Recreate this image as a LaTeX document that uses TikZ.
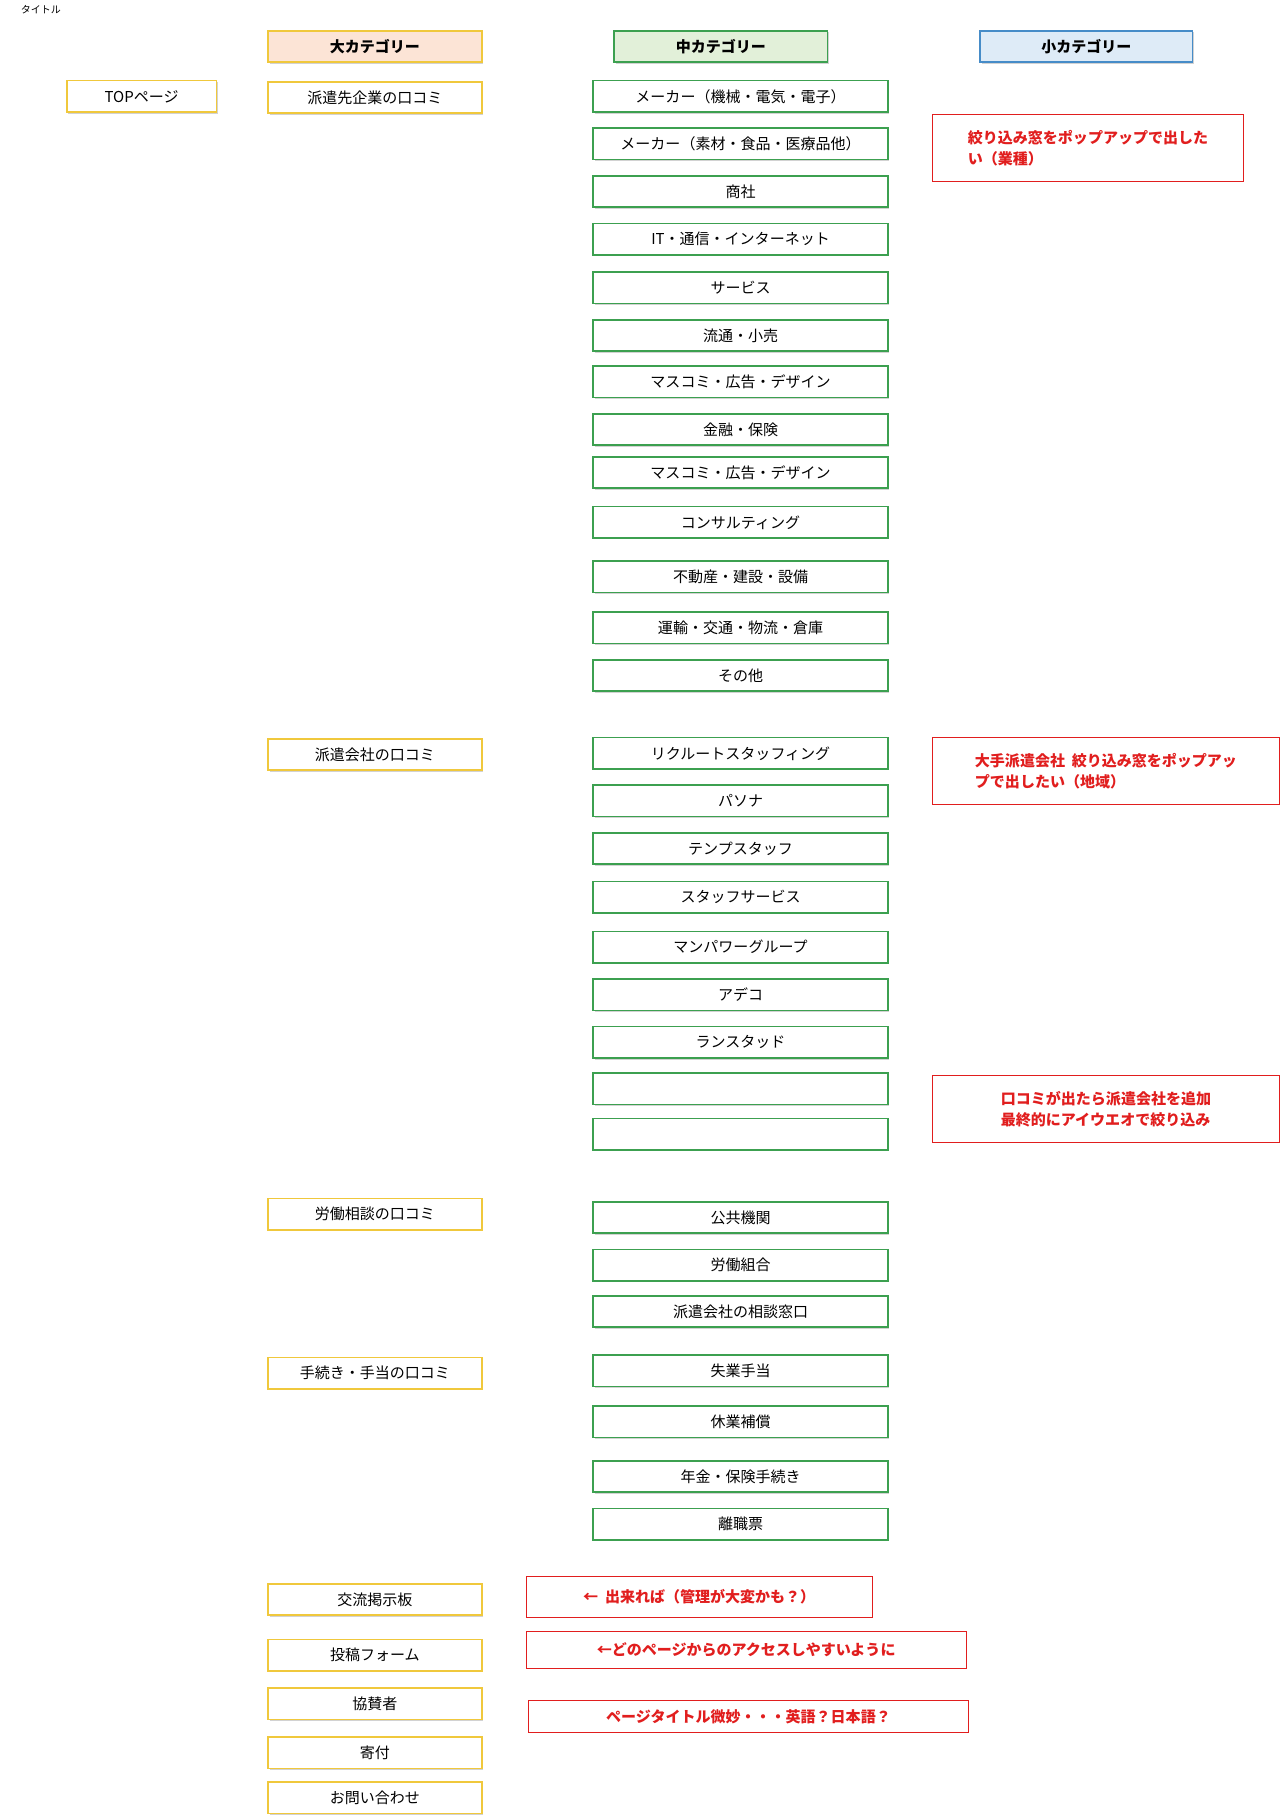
\documentclass[tikz,border=0pt]{standalone}
\usepackage{fontspec}
\setmainfont{Noto Sans CJK JP}
\usetikzlibrary{shadows}
\definecolor{ybord}{RGB}{240,200,60}
\definecolor{gbord}{RGB}{60,160,80}
\definecolor{bbord}{RGB}{70,140,200}
\definecolor{redc}{RGB}{225,30,30}
\begin{document}
\begin{tikzpicture}[x=1.16pt,y=-1.16pt,
  base/.style={draw,line width=1.6pt,minimum height=27*1.16pt,inner sep=0pt,font=\fontsize{15}{18}\selectfont,drop shadow={shadow xshift=1.5pt,shadow yshift=-1.5pt,opacity=0.35}},
  big/.style={base,draw=ybord,fill=white,minimum width=184*1.16pt},
  mid/.style={base,draw=gbord,fill=white,minimum width=254*1.16pt},
  note/.style={draw=redc,line width=0.8pt,text=redc,font=\fontsize{15}{21}\selectfont\bfseries,align=left,anchor=north west,inner sep=7pt}]
\useasboundingbox (0,0) rectangle (1105,1568);
\fill[white] (0,0) rectangle (1105,1568);
\node[anchor=west,font=\fontsize{10}{12}\selectfont] (t) at (15,8) {タイトル};
\node[big,fill={rgb,255:red,252;green,228;blue,214},font=\fontsize{15}{18}\selectfont\bfseries] (h1) at (323,40) {大カテゴリー};
\node[mid,minimum width=184*1.16pt,fill={rgb,255:red,226;green,240;blue,217},font=\fontsize{15}{18}\selectfont\bfseries] (h2) at (621,40) {中カテゴリー};
\node[base,draw=bbord,minimum width=183*1.16pt,fill={rgb,255:red,222;green,235;blue,247},font=\fontsize{15}{18}\selectfont\bfseries] (h3) at (936,40) {小カテゴリー};
\node[big,minimum width=129*1.16pt] (top) at (122,83) {TOPページ};
\foreach \n/\y/\t in {b1/84/派遣先企業の口コミ,b2/650/派遣会社の口コミ,b3/1046/労働相談の口コミ,b4/1183/手続き・手当の口コミ,b5/1378/交流掲示板,b6/1426/投稿フォーム,b7/1468/協賛者,b8/1510/寄付,b9/1549/お問い合わせ}
  \node[big] (\n) at (323,\y) {\t};
\foreach \n/\y/\t in {m1/83/メーカー（機械・電気・電子）,m2/124/メーカー（素材・食品・医療品他）,m3/165/商社,m4/206/IT・通信・インターネット,m5/248/サービス,m6/289/流通・小売,m7/329/マスコミ・広告・デザイン,m8/370/金融・保険,m9/407/マスコミ・広告・デザイン,m10/450/コンサルティング,m11/497/不動産・建設・設備,m12/541/運輸・交通・物流・倉庫,m13/582/その他,n1/649/リクルートスタッフィング,n2/690/パソナ,n3/731/テンプスタッフ,n4/773/スタッフサービス,n5/816/マンパワーグループ,n6/857/アデコ,n7/898/ランスタッド,n8/938/{},n9/977/{},p1/1049/公共機関,p2/1090/労働組合,p3/1130/派遣会社の相談窓口,q1/1181/失業手当,q2/1225/休業補償,q3/1272/年金・保険手続き,q4/1313/離職票}
  \node[mid] (\n) at (638,\y) {\t};
\node[note,minimum width=268*1.16pt,minimum height=58*1.16pt] (r1) at (803,98) {絞り込み窓をポップアップで出した\\い（業種）};
\node[note,minimum width=299*1.16pt,minimum height=58*1.16pt] (r2) at (803,635) {大手派遣会社\ \ 絞り込み窓をポップアッ\\プで出したい（地域）};
\node[note,minimum width=299*1.16pt,minimum height=58*1.16pt] (r3) at (803,926) {口コミが出たら派遣会社を追加\\最終的にアイウエオで絞り込み};
\node[note,minimum width=298*1.16pt,minimum height=35*1.16pt,inner sep=5pt] (r4) at (453,1358) {←\ \ 出来れば（管理が大変かも？）};
\node[note,minimum width=379*1.16pt,minimum height=32*1.16pt,inner sep=5pt] (r5) at (453,1405) {←どのページからのアクセスしやすいように};
\node[note,minimum width=379*1.16pt,minimum height=27*1.16pt,inner sep=4pt] (r6) at (455,1465) {ページタイトル微妙・・・英語？日本語？};
\end{tikzpicture}
\end{document}
